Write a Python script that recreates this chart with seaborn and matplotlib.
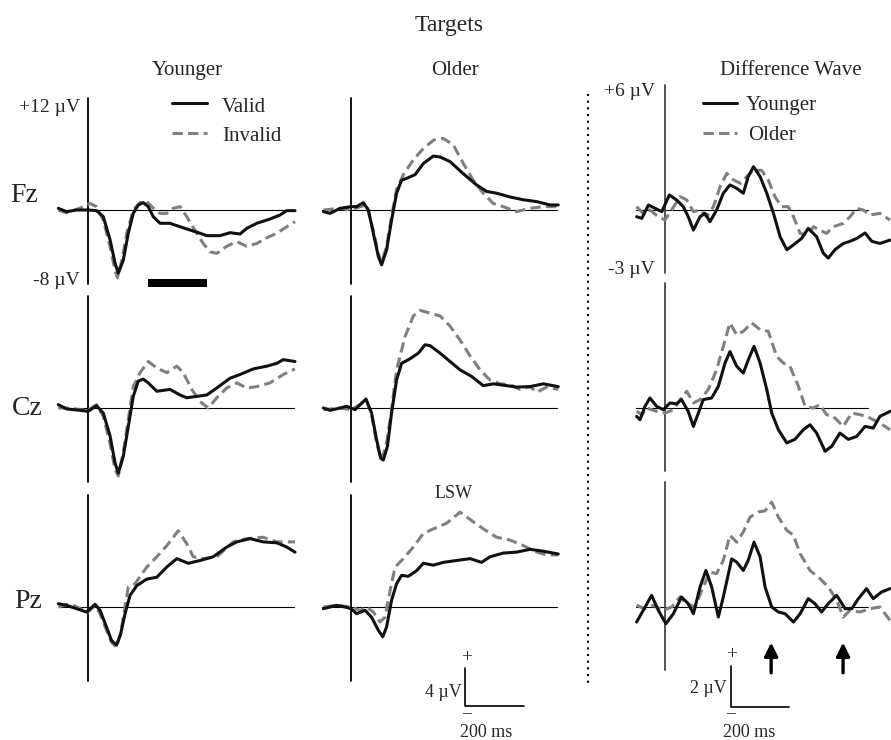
import matplotlib
matplotlib.use('Agg')
import matplotlib.pyplot as plt
import seaborn as sns

W, H = 891, 740

# values: time in ms, amplitude in microvolts
# Younger, Fz
yng_fz_valid_t = [-101, -73, -39, 0, 29, 52, 75, 92, 103, 120, 137, 154, 171, 188, 205, 222, 245, 279, 313, 347, 381, 404, 449, 483, 517, 540, 574, 619, 653, 676, 704]
yng_fz_valid_v = [0.18, -0.18, 0, 0, -0.07, -0.72, -3.2, -5.7, -6.8, -5.4, -2.5, -0.36, 0.54, 0.79, 0.36, -0.72, -1.43, -1.43, -1.8, -2.15, -2.5, -2.76, -2.76, -2.44, -2.58, -1.97, -1.43, -0.97, -0.54, -0.07, -0.07]
yng_fz_inval_t = [-101, -73, -27, 7, 29, 52, 75, 92, 100, 115, 132, 154, 177, 200, 222, 245, 268, 290, 313, 336, 370, 392, 415, 438, 472, 506, 540, 574, 608, 642, 676, 704]
yng_fz_inval_v = [0, -0.3, 0.2, 0.7, 0.36, -1.1, -3.9, -6.5, -7.3, -5.4, -2.5, 0, 0.8, 0.9, 0.2, -0.36, -0.36, 0.18, 0.36, -0.72, -2.5, -3.6, -4.5, -4.66, -3.9, -3.4, -3.9, -3.6, -3.0, -2.5, -1.8, -1.25]
# Older, Fz
old_fz_valid_t = [-94, -71, -37, 0, 19, 42, 59, 76, 93, 104, 121, 138, 155, 172, 189, 218, 246, 280, 303, 337, 382, 427, 461, 496, 541, 586, 632, 677, 705]
old_fz_valid_v = [-0.18, -0.36, 0.18, 0.36, 0.36, 0.79, 0, -2.5, -5.0, -5.9, -4.3, -1.1, 1.8, 3.2, 3.4, 3.8, 5.0, 5.8, 5.7, 5.2, 3.9, 2.7, 2.0, 1.8, 1.4, 1.1, 0.9, 0.54, 0.54]
old_fz_inval_t = [-94, -37, 0, 31, 53, 76, 93, 104, 121, 138, 155, 178, 212, 246, 280, 314, 348, 382, 416, 450, 484, 518, 563, 609, 654, 705]
old_fz_inval_v = [0, 0.18, 0, 0.36, 0.54, -2.2, -4.7, -5.7, -3.9, -0.7, 2.2, 3.8, 5.4, 6.6, 7.5, 7.7, 7.0, 5.0, 3.2, 1.8, 0.7, 0.36, -0.18, 0.18, 0.36, 0.36]
# Difference wave, Fz
dif_fz_yng_t = [-98, -80, -57, -34, -11, 15, 40, 63, 80, 98, 121, 138, 155, 178, 201, 224, 247, 270, 287, 305, 328, 351, 374, 397, 420, 443, 471, 494, 523, 546, 563, 586, 615, 638, 661, 690, 713, 741, 776]
dif_fz_yng_v = [-0.32, -0.4, 0.24, 0.08, -0.08, 0.72, 0.48, 0.16, -0.32, -0.96, -0.32, -0.16, -0.56, 0, 0.8, 1.2, 1.04, 0.8, 1.6, 2.07, 1.6, 0.8, -0.16, -1.28, -1.9, -1.67, -1.36, -0.88, -1.28, -2.07, -2.3, -1.9, -1.6, -1.5, -1.36, -1.1, -1.5, -1.6, -1.44]
dif_fz_old_t = [-98, -75, -52, -23, 0, 23, 52, 75, 98, 121, 144, 167, 190, 213, 236, 259, 282, 305, 333, 356, 379, 402, 425, 443, 466, 489, 512, 534, 557, 580, 615, 638, 661, 684, 707, 741, 776]
dif_fz_old_v = [0.16, -0.16, 0, -0.32, -0.48, 0, 0.64, 0.48, -0.08, 0, -0.32, 0.16, 1.12, 1.75, 1.44, 1.28, 1.6, 1.9, 1.9, 1.44, 0.64, 0.16, 0.16, -0.32, -1.12, -1.2, -0.8, -0.96, -1.12, -0.8, -0.64, -0.32, 0.08, 0, -0.24, -0.16, -0.48]

# Younger, Cz
yng_cz_valid_t = [-101, -73, -27, 0, 29, 52, 75, 92, 103, 120, 137, 154, 171, 188, 205, 234, 279, 313, 336, 370, 404, 438, 483, 517, 562, 608, 642, 664, 704]
yng_cz_valid_v = [0.36, -0.1, -0.25, -0.36, 0.25, -0.54, -3.0, -5.9, -7.0, -5.2, -2.0, 1.25, 2.9, 3.1, 2.7, 1.8, 2.0, 1.4, 1.1, 1.25, 1.4, 2.15, 3.2, 3.6, 4.2, 4.5, 4.8, 5.2, 5.0]
yng_cz_inval_t = [-101, -61, -27, 0, 29, 52, 75, 92, 103, 120, 137, 154, 177, 205, 234, 268, 302, 324, 353, 381, 409, 438, 472, 506, 540, 574, 619, 664, 704]
yng_cz_inval_v = [0, 0, -0.18, -0.25, 0.36, -0.9, -3.8, -6.6, -7.3, -4.8, -1.25, 2.3, 3.8, 5.0, 4.3, 3.8, 4.5, 3.8, 2.0, 0.7, 0, 1.1, 2.15, 2.7, 2.15, 2.3, 2.7, 3.6, 4.2]
# Older, Cz
old_cz_valid_t = [-94, -71, -37, -15, 14, 31, 51, 70, 87, 101, 110, 124, 138, 155, 172, 201, 229, 252, 269, 303, 337, 371, 410, 450, 484, 530, 563, 609, 654, 705]
old_cz_valid_v = [0, -0.25, 0, 0.18, -0.18, 0.36, 0.97, -0.54, -3.4, -5.4, -5.6, -4.1, -0.54, 3.0, 4.8, 5.3, 5.9, 6.8, 6.7, 5.9, 5.0, 4.1, 3.4, 2.4, 2.6, 2.4, 2.25, 2.3, 2.6, 2.3]
old_cz_inval_t = [-94, -37, 0, 31, 51, 70, 87, 104, 121, 138, 155, 184, 212, 235, 269, 303, 337, 371, 405, 439, 473, 507, 541, 575, 609, 632, 666, 705]
old_cz_inval_v = [-0.18, 0, -0.18, 0.36, 0.9, -0.7, -3.8, -5.6, -3.8, -0.18, 4.1, 7.7, 9.9, 10.5, 10.2, 9.9, 8.8, 7.3, 5.6, 4.1, 3.0, 2.6, 2.5, 2.0, 2.3, 1.7, 2.25, 2.0]
# Difference wave, Cz
dif_cz_yng_t = [-98, -86, -69, -52, -29, -6, 17, 40, 57, 80, 98, 115, 132, 161, 184, 207, 224, 247, 270, 287, 307, 328, 351, 368, 391, 420, 448, 477, 500, 523, 552, 575, 603, 632, 661, 690, 718, 741, 776]
dif_cz_yng_v = [-0.4, -0.56, 0.08, 0.48, 0.08, -0.08, 0.24, 0.2, 0.4, -0.16, -0.88, -0.24, 0.4, 0.48, 1.04, 2.15, 2.7, 2.0, 1.67, 2.3, 2.95, 2.15, 0.88, -0.24, -1.04, -1.67, -1.5, -1.04, -0.8, -1.2, -2.07, -1.83, -1.2, -1.5, -1.36, -0.88, -0.96, -0.4, -0.16]
dif_cz_old_t = [-98, -80, -63, -29, 0, 29, 52, 75, 98, 121, 149, 178, 201, 224, 247, 270, 299, 328, 356, 385, 408, 431, 460, 483, 511, 534, 557, 580, 615, 644, 672, 695, 718, 741, 776]
dif_cz_old_v = [-0.16, -0.32, 0, -0.16, -0.24, -0.08, 0.4, 0.8, 0.24, 0.4, 0.88, 1.83, 2.95, 4.07, 3.5, 3.67, 4.07, 3.75, 3.67, 2.47, 2.15, 1.99, 1.04, 0.08, 0, 0.16, -0.32, -0.4, -0.88, -0.24, -0.32, -0.4, -0.56, -0.72, -1.04]

# Younger, Pz
yng_pz_valid_t = [-101, -73, -39, -5, 24, 41, 63, 80, 97, 111, 126, 143, 166, 200, 234, 268, 302, 341, 381, 426, 472, 506, 551, 596, 642, 676, 704]
yng_pz_valid_v = [0.36, 0.18, -0.18, -0.54, 0.29, -0.36, -2.15, -3.6, -4.1, -2.9, -0.72, 1.25, 2.3, 3.0, 3.2, 4.3, 5.2, 4.7, 5.0, 5.4, 6.45, 7.0, 7.35, 7.0, 6.9, 6.45, 5.9]
yng_pz_inval_t = [-101, -61, -27, 0, 24, 41, 63, 80, 97, 111, 126, 137, 160, 200, 234, 268, 307, 336, 358, 392, 438, 494, 540, 596, 642, 704]
yng_pz_inval_v = [0, 0.36, -0.18, -0.54, 0.18, -0.72, -2.5, -3.8, -4.3, -2.9, 0, 2.15, 2.5, 4.3, 5.4, 6.6, 8.2, 6.8, 5.4, 5.2, 5.4, 7.0, 7.35, 7.5, 7.0, 7.0]
# Older, Pz
old_pz_valid_t = [-94, -71, -49, -20, 0, 19, 48, 70, 93, 108, 121, 138, 155, 172, 195, 223, 246, 280, 314, 359, 405, 444, 473, 518, 563, 609, 654, 705]
old_pz_valid_v = [-0.18, 0, 0.18, 0, -0.18, -0.72, -0.36, -1.1, -2.5, -3.2, -2.15, 0.72, 2.5, 3.4, 3.3, 3.9, 4.7, 4.5, 4.8, 5.0, 5.2, 4.8, 5.4, 5.8, 5.9, 6.2, 6.0, 5.7]
old_pz_inval_t = [-94, -49, 0, 31, 53, 76, 99, 116, 133, 150, 178, 212, 246, 280, 325, 371, 410, 450, 495, 541, 586, 632, 666, 705]
old_pz_inval_v = [0, 0.18, 0, -0.36, 0, -0.54, -1.6, -1.1, 1.8, 4.3, 5.2, 6.45, 7.9, 8.4, 9.0, 10.2, 9.3, 8.4, 7.5, 7.2, 6.6, 5.9, 5.6, 5.6]
# Difference wave, Pz
dif_pz_yng_t = [-98, -75, -46, -23, 3, 29, 57, 80, 98, 121, 141, 161, 184, 201, 230, 247, 270, 287, 307, 328, 345, 368, 391, 414, 443, 466, 494, 517, 540, 563, 592, 621, 644, 667, 695, 718, 747, 776]
dif_pz_yng_v = [-0.72, -0.16, 0.56, -0.16, -0.8, -0.32, 0.48, 0.16, -0.32, 0.96, 1.75, 0.96, -0.48, 0.48, 2.3, 2.15, 1.75, 2.23, 3.1, 2.4, 0.96, 0, -0.24, -0.32, -0.72, -0.32, 0.4, 0.16, -0.24, 0.16, 0.56, -0.08, -0.08, 0.4, 0.88, 0.4, 0.72, 0.88]
dif_pz_old_t = [-98, -69, -40, -6, 23, 52, 75, 103, 132, 155, 178, 201, 224, 247, 270, 293, 322, 345, 368, 391, 420, 443, 466, 500, 534, 563, 592, 615, 638, 672, 707, 741, 776]
dif_pz_old_v = [0.08, -0.08, 0.08, -0.16, 0, 0.48, 0.16, 0, 0.96, 1.67, 1.6, 2.23, 3.43, 3.1, 3.59, 4.3, 4.55, 4.6, 5.02, 4.3, 3.67, 3.43, 2.55, 1.75, 1.36, 0.96, 0.32, -0.48, -0.16, -0.24, -0.08, 0, -0.64]

electrodes = ['Fz', 'Cz', 'Pz']
col_titles = ['Younger', 'Older', 'Difference Wave']
sig_window = [205, 405]      # black bar under younger Fz (ms)
arrow_times = [366, 614]     # arrows under difference wave Pz (ms)

BLACK = '#111111'
GRAY = '#808080'
DASH = (0, (3.4, 1.7))

sns.set_style('white')
plt.rcParams['font.family'] = ['Liberation Serif', 'DejaVu Serif']


def px(x, y):
    return x / W, 1 - y / H


def panel_axes(fig, zero_px, base_px, xs, ys, xlim, ylim):
    # axes positioned so that t=0 / 0 uV land on the given pixel
    left = zero_px + xlim[0] * xs
    right = zero_px + xlim[1] * xs
    top = base_px - ylim[1] * ys
    bottom = base_px - ylim[0] * ys
    ax = fig.add_axes([left / W, 1 - bottom / H, (right - left) / W, (bottom - top) / H])
    ax.patch.set_alpha(0)
    return ax


fig = plt.figure(figsize=(W / 100, H / 100), dpi=100)

rows = {
    'Fz': [(yng_fz_valid_t, yng_fz_valid_v, yng_fz_inval_t, yng_fz_inval_v),
           (old_fz_valid_t, old_fz_valid_v, old_fz_inval_t, old_fz_inval_v),
           (dif_fz_yng_t, dif_fz_yng_v, dif_fz_old_t, dif_fz_old_v)],
    'Cz': [(yng_cz_valid_t, yng_cz_valid_v, yng_cz_inval_t, yng_cz_inval_v),
           (old_cz_valid_t, old_cz_valid_v, old_cz_inval_t, old_cz_inval_v),
           (dif_cz_yng_t, dif_cz_yng_v, dif_cz_old_t, dif_cz_old_v)],
    'Pz': [(yng_pz_valid_t, yng_pz_valid_v, yng_pz_inval_t, yng_pz_inval_v),
           (old_pz_valid_t, old_pz_valid_v, old_pz_inval_t, old_pz_inval_v),
           (dif_pz_yng_t, dif_pz_yng_v, dif_pz_old_t, dif_pz_old_v)],
}
base_px = {'Fz': 210, 'Cz': 408, 'Pz': 607}
col_zero = [88, 351, 665]
col_xs = [0.294, 0.294, 0.29]
col_ys = [9.3, 9.3, 20.9]
col_ylim = [(-12, 14), (-12, 14), (-5.5, 6.5)]
col_vrange = [(-8, 12), (-8, 12), (-3, 6)]

axes = {}
for e in electrodes:
    for c in range(3):
        ax = panel_axes(fig, col_zero[c], base_px[e], col_xs[c], col_ys[c], (-120, 800), col_ylim[c])
        t1, v1, t2, v2 = rows[e][c]
        ax.plot([-100, 700], [0, 0], color='black', lw=0.8)
        vlo, vhi = col_vrange[c]
        ax.plot([0, 0], [vlo, vhi], color='#444444' if c == 2 else 'black', lw=1.3)
        sns.lineplot(x=t2, y=v2, ax=ax, color=GRAY, lw=2.2, linestyle=DASH)
        sns.lineplot(x=t1, y=v1, ax=ax, color=BLACK, lw=2.2)
        ax.set_xlim(-120, 800)
        ax.set_ylim(*col_ylim[c])
        ax.axis('off')
        axes[(e, c)] = ax

# significance bar under younger Fz
axes[('Fz', 0)].fill_between(sig_window, -8.3, -7.4, color='black', lw=0)

# arrows under difference wave Pz
for t in arrow_times:
    axes[('Pz', 2)].annotate('', xy=(t, -1.7), xytext=(t, -3.15),
                             arrowprops=dict(arrowstyle='-|>', color='black', lw=2.4,
                                             mutation_scale=20, shrinkA=0, shrinkB=0))

# scale bars (200 ms, 4 uV / 2 uV)
for c, (t0, v0, amp) in [(1, (388, -10.6, 4)), (2, (228, -4.8, 2))]:
    ax = axes[('Pz', c)]
    ax.plot([t0, t0, t0 + 200], [v0 + amp, v0, v0], color='black', lw=1.2, clip_on=False)

# overlay for free text and the divider
ov = fig.add_axes([0, 0, 1, 1])
ov.set_xlim(0, W)
ov.set_ylim(H, 0)
ov.axis('off')
ov.patch.set_alpha(0)

ov.text(449, 31, 'Targets', fontsize=17, ha='center', va='baseline')
for x, title in zip([187, 455, 791], col_titles):
    ov.text(x, 75, title, fontsize=15, ha='center', va='baseline')
for e, (x, y) in zip(electrodes, [(10, 202), (12, 415), (14, 608)]):
    ov.text(x, y, e, fontsize=20, ha='left', va='baseline')

ov.text(80, 112, '+12 \u00b5V', fontsize=14, ha='right', va='baseline')
ov.text(80, 285, '-8 \u00b5V', fontsize=14, ha='right', va='baseline')
ov.text(655, 96, '+6 \u00b5V', fontsize=14, ha='right', va='baseline')
ov.text(655, 274, '-3 \u00b5V', fontsize=14, ha='right', va='baseline')

# legends
ov.plot([172, 207], [103, 103], color=BLACK, lw=2.2)
ov.plot([172, 207], [133, 133], color=GRAY, lw=2.2, linestyle=DASH)
ov.text(222, 112, 'Valid', fontsize=15, va='baseline')
ov.text(222, 141, 'Invalid', fontsize=15, va='baseline')
ov.plot([703, 737], [103, 103], color=BLACK, lw=2.2)
ov.plot([703, 737], [133, 133], color=GRAY, lw=2.2, linestyle=DASH)
ov.text(746, 110, 'Younger', fontsize=15, va='baseline')
ov.text(748, 140, 'Older', fontsize=15, va='baseline')

ov.text(454, 498, 'LSW', fontsize=13, ha='center', va='baseline')

# scale bar labels
ov.text(467, 658, '+', fontsize=14, ha='center', va='center')
ov.text(462, 697, '4 \u00b5V', fontsize=13, ha='right', va='baseline')
ov.text(467, 714, '\u2013', fontsize=13, ha='center', va='center')
ov.text(460, 737, '200 ms', fontsize=13, ha='left', va='baseline')
ov.text(732, 655, '+', fontsize=14, ha='center', va='center')
ov.text(727, 693, '2 \u00b5V', fontsize=13, ha='right', va='baseline')
ov.text(731, 714, '\u2013', fontsize=13, ha='center', va='center')
ov.text(723, 737, '200 ms', fontsize=13, ha='left', va='baseline')

# dotted divider between the group panels and the difference wave
ov.plot([588, 588], [94, 684], color='black', lw=1.5, linestyle=(0, (1, 2.2)))

fig.savefig('out.png', dpi=100)
